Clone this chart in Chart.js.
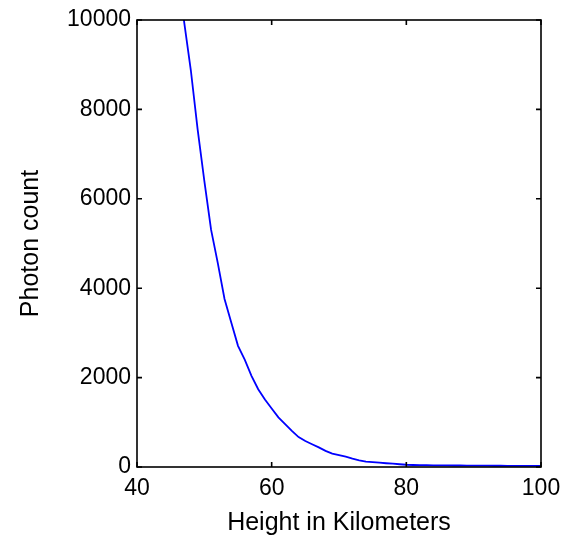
<!DOCTYPE html>
<html>
<head>
<meta charset="utf-8">
<script src="https://cdn.jsdelivr.net/npm/chart.js@4/dist/chart.umd.min.js"></script>
<style>
  html, body { margin: 0; padding: 0; background: #fff; }
  #wrap { width: 574px; height: 539px; }
</style>
</head>
<body>
<div id="wrap"><canvas id="myChart"></canvas></div>
<script>
// height in km (x) and photon count (y)
const heights = [
  45, 46, 47, 48, 49, 50, 51, 52, 53, 54, 55, 56, 57, 58, 59, 60, 61, 62, 63, 64,
  65, 66, 67, 68, 69, 70, 71, 72, 73, 74, 75, 76, 77, 78, 79, 80, 81, 82, 83, 84,
  85, 86, 87, 88, 89, 90, 91, 92, 93, 94, 95, 96, 97, 98, 99, 100,
];
const photons = [
  12700, 11250, 9960, 8870, 7560, 6400, 5310, 4560, 3760, 3230, 2710, 2400, 2040, 1740, 1510, 1310, 1110, 960, 810, 670,
  580, 510, 440, 360, 300, 265, 230, 185, 150, 122, 108, 96, 84, 74, 62, 50, 45, 42, 40, 38,
  36, 35, 34, 33, 32, 31, 30, 29, 28, 28, 27, 27, 26, 26, 25, 25,
];
const x_ticks = [40, 60, 80, 100];
const y_ticks = [0, 2000, 4000, 6000, 8000, 10000];

const font_family = "'Liberation Sans', Arial, Helvetica, sans-serif";
const tick_len = 5;

// matlab style box with inward ticks on all four sides
const box_plugin = {
  id: "box",
  afterDraw(chart) {
    const { ctx, chartArea: a, scales } = chart;
    ctx.save();
    ctx.strokeStyle = "#000";
    ctx.lineWidth = 1.6;
    ctx.strokeRect(a.left, a.top, a.right - a.left, a.bottom - a.top);
    ctx.beginPath();
    for (const v of x_ticks) {
      const px = scales.x.getPixelForValue(v);
      ctx.moveTo(px, a.bottom);
      ctx.lineTo(px, a.bottom - tick_len);
      ctx.moveTo(px, a.top);
      ctx.lineTo(px, a.top + tick_len);
    }
    for (const v of y_ticks) {
      const py = scales.y.getPixelForValue(v);
      ctx.moveTo(a.left, py);
      ctx.lineTo(a.left + tick_len, py);
      ctx.moveTo(a.right, py);
      ctx.lineTo(a.right - tick_len, py);
    }
    ctx.stroke();
    ctx.restore();
  },
};

const points = heights.map((h, i) => ({ x: h, y: photons[i] }));

new Chart(document.getElementById("myChart"), {
  type: "line",
  data: {
    datasets: [
      {
        data: points,
        borderColor: "#0000ff",
        borderWidth: 1.8,
        pointRadius: 0,
        tension: 0,
        clip: 0,
      },
    ],
  },
  options: {
    responsive: true,
    maintainAspectRatio: false,
    animation: false,
    layout: { padding: { top: 20, right: 33, left: 0, bottom: 0 } },
    plugins: {
      legend: { display: false },
      tooltip: { enabled: false },
    },
    scales: {
      x: {
        type: "linear",
        min: 40,
        max: 100,
        afterBuildTicks: (scale) => {
          scale.ticks = x_ticks.map((v) => ({ value: v }));
        },
        afterFit: (scale) => {
          scale.height = 72;
        },
        grid: { display: false, drawTicks: false },
        border: { display: false },
        ticks: {
          color: "#000",
          padding: 8,
          maxRotation: 0,
          callback: (v) => String(v),
          font: { family: font_family, size: 23 },
        },
        title: {
          display: true,
          text: "Height in Kilometers",
          color: "#000",
          padding: { top: 0, bottom: 1 },
          font: { family: font_family, size: 25 },
        },
      },
      y: {
        type: "linear",
        min: 0,
        max: 10000,
        afterBuildTicks: (scale) => {
          scale.ticks = y_ticks.map((v) => ({ value: v }));
        },
        afterFit: (scale) => {
          scale.width = 137;
        },
        grid: { display: false, drawTicks: false },
        border: { display: false },
        ticks: {
          color: "#000",
          padding: 6,
          callback: (v) => String(v),
          font: { family: font_family, size: 23 },
        },
        title: {
          display: true,
          text: "Photon count",
          color: "#000",
          padding: { top: 16, bottom: 0 },
          font: { family: font_family, size: 25 },
        },
      },
    },
  },
  plugins: [box_plugin],
});
</script>
</body>
</html>
